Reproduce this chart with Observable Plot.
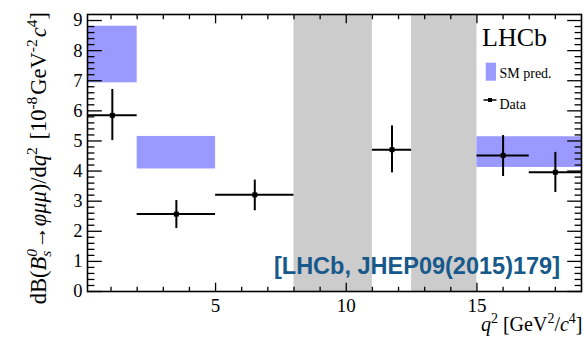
<!DOCTYPE html>
<html><head><meta charset="utf-8">
<script src="https://cdn.jsdelivr.net/npm/d3@7"></script>
<script src="https://cdn.jsdelivr.net/npm/@observablehq/plot@0.6"></script>
<style>
body{margin:0;background:#fff;}
#chart{position:relative;width:584px;height:342px;}
#chart svg text{font-family:"Liberation Serif","Times New Roman",serif;}
#chart svg text.cite{font-family:"Liberation Sans",Arial,sans-serif;}
</style></head><body><div id="chart"></div>
<script>
// Measured bins (q^2 in GeV^2/c^4)
const binLo = [0.1, 2, 5, 11, 15, 17];
const binHi = [2, 5, 8, 12.5, 17, 19];
const binCenter = [1.05, 3.5, 6.5, 11.75, 16, 18];
const dataValue = [5.85, 2.57, 3.21, 4.71, 4.52, 3.96];
const errUp = [0.86, 0.45, 0.49, 0.79, 0.66, 0.66];
const errDown = [0.84, 0.48, 0.53, 0.77, 0.70, 0.67];
// SM prediction bands
const smLo = [0.1, 2, 15];
const smHi = [2, 5, 19];
const smMin = [6.93, 4.07, 4.12];
const smMax = [8.81, 5.15, 5.14];
// Vetoed charmonium regions
const vetoLo = [8, 12.5];
const vetoHi = [11, 15];
// Ticks
const xMajor = [5, 10, 15];
const xMinor = [1, 2, 3, 4, 6, 7, 8, 9, 11, 12, 13, 14, 16, 17, 18];
const yMajor = [0, 1, 2, 3, 4, 5, 6, 7, 8, 9];
const yMinor = d3.range(1, 46).filter(i => i % 5).map(i => i / 5);
const citation = "[LHCb, JHEP09(2015)179]";

const points = binLo.map((lo, i) => ({lo, hi: binHi[i], c: binCenter[i], v: dataValue[i], up: errUp[i], dn: errDown[i]}));
const sm = smLo.map((lo, i) => ({lo, hi: smHi[i], min: smMin[i], max: smMax[i]}));
const vetoes = vetoLo.map((lo, i) => ({lo, hi: vetoHi[i]}));

const serif = "Liberation Serif, Times New Roman, serif";
const ML = 87, MR = 3, MT = 14, MB = 51, W = 584, H = 342;

const tickAxes = [];
for (const anchor of ["bottom", "top"]) {
  tickAxes.push(Plot.axisX(xMinor, {anchor, tickSize: -4.2, fill: "none", label: null, strokeWidth: 1.3}));
  tickAxes.push(Plot.axisX(xMajor, {anchor, tickSize: -8.3, fill: "none", label: null, strokeWidth: 1.3}));
}
for (const anchor of ["left", "right"]) {
  tickAxes.push(Plot.axisY(yMinor, {anchor, tickSize: -7.4, fill: "none", label: null, strokeWidth: 1.3}));
  tickAxes.push(Plot.axisY(yMajor, {anchor, tickSize: -14.8, fill: "none", label: null, strokeWidth: 1.3}));
}

const plot = Plot.plot({
  width: W, height: H,
  marginLeft: ML, marginRight: MR, marginTop: MT, marginBottom: MB,
  x: {domain: [0.1, 19]},
  y: {domain: [0, 9.2]},
  style: {fontFamily: serif, fontSize: "18.5px", color: "black", background: "white"},
  marks: [
    Plot.rect(vetoes, {x1: "lo", x2: "hi", fill: "#cccccc"}),
    Plot.rect(sm, {x1: "lo", x2: "hi", y1: "min", y2: "max", fill: "#9999ff"}),
    ...tickAxes,
    Plot.axisX(xMajor, {anchor: "bottom", tickSize: 0, tickPadding: 6.5, label: null, fontFamily: serif, fontSize: 19}),
    Plot.axisY(yMajor, {anchor: "left", tickSize: 0, tickPadding: 5, label: null, fontFamily: serif, fontSize: 18.5}),
    Plot.ruleY(points, {y: "v", x1: "lo", x2: "hi", stroke: "black", strokeWidth: 2}),
    Plot.ruleX(points, {x: "c", y1: d => d.v - d.dn, y2: d => d.v + d.up, stroke: "black", strokeWidth: 2}),
    Plot.dot(points, {x: "c", y: "v", symbol: "square", r: 2.8, fill: "black"}),
    Plot.frame({stroke: "black", strokeWidth: 1.6})
  ]
});
document.getElementById("chart").appendChild(plot);

const svg = d3.select(plot).attr("font-family", serif);
function addText(parent, parts, attrs) {
  const t = parent.append("text").attr("text-anchor", "start");
  for (const [k, v] of Object.entries(attrs)) t.attr(k, v);
  for (const p of parts) {
    const s = t.append("tspan").text(p.t);
    if (p.i) s.style("font-style", "italic");
    if (p.s) s.style("font-size", p.s + "px");
    if (p.dy) s.attr("dy", p.dy);
    if (p.dx) s.attr("dx", p.dx);
  }
  return t;
}
// Y axis title
addText(svg, [
  {t: "dB("}, {t: "B", i: 1}, {t: "0", i: 1, s: 15.5, dy: -9}, {t: "s", i: 1, s: 15.5, dx: -7.8, dy: 14},
  {t: "\u2192", dy: -5, dx: 2}, {t: "\u03c6\u03bc\u03bc", i: 1}, {t: ")/d"}, {t: "q", i: 1},
  {t: "2", s: 15.5, dy: -9}, {t: " [10", dy: 9, dx: 2}, {t: "-8", s: 15.5, dy: -9}, {t: "GeV", dy: 9, dx: 2},
  {t: "-2", s: 15.5, dy: -9}, {t: "c", i: 1, dy: 9, dx: 2}, {t: "4", s: 15.5, dy: -9}, {t: "]", dy: 9}
], {transform: "translate(46,12) rotate(-90)", "text-anchor": "end", "font-size": 22.5, fill: "black"});
// X axis title
addText(svg, [
  {t: "q", i: 1}, {t: "2", s: 14, dy: -8}, {t: " [GeV", dy: 8}, {t: "2", s: 14, dy: -8},
  {t: "/", dy: 8}, {t: "c", i: 1}, {t: "4", s: 14, dy: -8}, {t: "]", dy: 8}
], {x: 582.5, y: 330.5, "text-anchor": "end", "font-size": 20, fill: "black"});
// LHCb label
addText(svg, [{t: "LHCb"}], {x: 482, y: 46, "font-size": 26, fill: "black"});
// Legend
svg.append("rect").attr("x", 485.7).attr("y", 62.7).attr("width", 10.3).attr("height", 18).attr("fill", "#9999ff");
addText(svg, [{t: "SM pred."}], {x: 499.5, y: 77.5, "font-size": 14, fill: "black"});
svg.append("line").attr("x1", 483.5).attr("x2", 496.5).attr("y1", 100).attr("y2", 100).attr("stroke", "black").attr("stroke-width", 1.5);
svg.append("rect").attr("x", 488).attr("y", 98).attr("width", 4).attr("height", 4).attr("fill", "black");
addText(svg, [{t: "Data"}], {x: 499.5, y: 109, "font-size": 14, fill: "black"});
// Citation
addText(svg, [{t: citation}], {class: "cite", x: 560, y: 273.5, "text-anchor": "end", "font-weight": "bold", "font-size": 23.5, fill: "#17598a"});
</script></body></html>
